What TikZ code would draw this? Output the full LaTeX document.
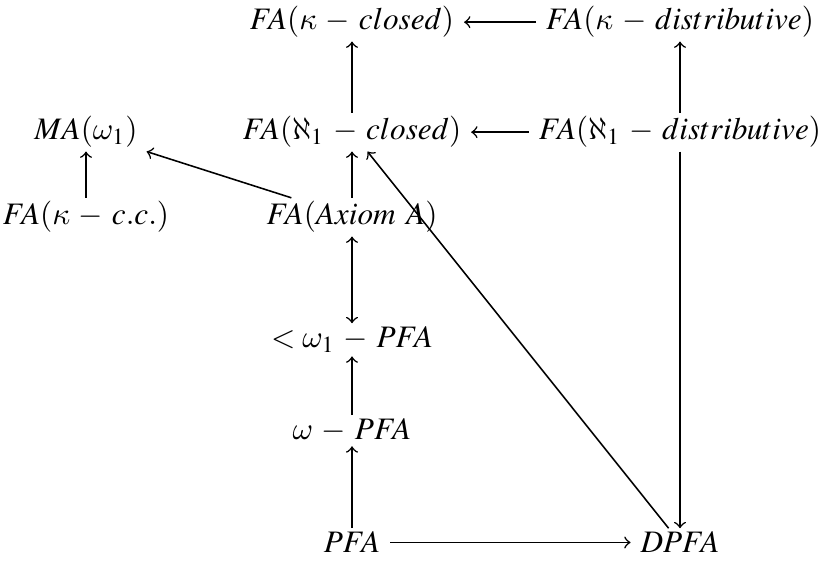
\documentclass[tikz,border=0pt]{standalone}
\usepackage{amsmath}
\usepackage{amssymb}
\usepackage{mathptmx}
\DeclareSymbolFont{cmletters}{OML}{cmm}{m}{it}
\DeclareSymbolFont{cmsymbols}{OMS}{cmsy}{m}{n}
\DeclareMathSymbol{\kappa}{\mathord}{cmletters}{"14}
\DeclareMathSymbol{\omega}{\mathord}{cmletters}{"21}
\DeclareMathSymbol{\aleph}{\mathord}{cmsymbols}{"40}
\medmuskip=5mu plus 2mu minus 4mu
\tikzset{
    forcing/.style={anchor=base,inner xsep=3pt,inner ysep=1pt},
    impl/.style={->,line width=0.5pt}
}
\begin{document}
\begin{tikzpicture}[x=0.32pt,y=-0.32pt]
    \useasboundingbox (0,0) rectangle (820,561);
    % top two rows
    \node[forcing] (kclosed) at (352,30) {$FA(\kappa - closed)$};
    \node[forcing] (kdistr) at (680,30) {$FA(\kappa - distributive)$};
    \node[forcing] (ma) at (86,140) {$MA(\omega_1)$};
    \node[forcing] (aclosed) at (352,140) {$FA(\aleph_1 - closed)$};
    \node[forcing] (adistr) at (680,140) {$FA(\aleph_1 - distributive)$};
    % middle column
    \node[forcing] (kcc) at (86,225) {$FA(\kappa - c.c.)$};
    \node[forcing] (axa) at (352,225) {$FA(Axiom\ A)$};
    \node[forcing] (lpfa) at (352,348) {$<\omega_1 - PFA$};
    \node[forcing] (wpfa) at (352,440) {$\omega - PFA$};
    \node[forcing] (pfa) at (352,553) {$PFA$};
    \node[forcing] (dpfa) at (680,553) {$DPFA$};

    \draw[impl] (kdistr) -- (kclosed);
    \draw[impl] (aclosed) -- (kclosed);
    \draw[impl] (adistr) -- (kdistr);
    \draw[impl] (adistr) -- (aclosed);
    \draw[impl] (adistr) -- (dpfa);
    \draw[impl] (kcc) -- (ma);
    \draw[impl] (axa) -- (ma);
    \draw[impl] (axa) -- (aclosed);
    \draw[<->,line width=0.5pt] (axa) -- (lpfa);
    \draw[impl] (wpfa) -- (lpfa);
    \draw[impl] (pfa) -- (wpfa);
    \draw[impl] (pfa) -- (dpfa);
    \draw[impl] (dpfa) -- (aclosed);
\end{tikzpicture}
\end{document}
